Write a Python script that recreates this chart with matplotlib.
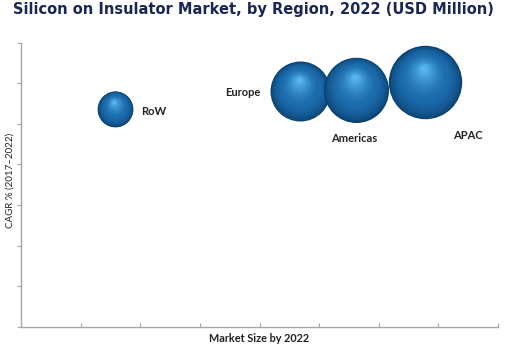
import numpy as np
import matplotlib
matplotlib.use("Agg")
import matplotlib.pyplot as plt
from matplotlib.transforms import ScaledTranslation
from matplotlib.colors import to_rgb

# data
regions = ["RoW", "Europe", "Americas", "APAC"]
market_size = [1.58, 4.68, 5.62, 6.78]      # x position (relative, no scale shown)
cagr = [5.37, 5.80, 5.84, 6.02]             # y position (relative, no scale shown)
bubble_value = [320, 900, 1056, 1347]       # bubble area (relative market value)

# label placement (points offset from bubble centre)
label_offsets = [(28, -2), (-41, -1), (-1.5, -35.5), (30.5, -38)]

fig = plt.figure(figsize=(5.11, 3.5), dpi=100)
ax = fig.add_axes([21 / 511, 23 / 350, 477 / 511, 284.5 / 350])
ax.set_xlim(0, 8)
ax.set_ylim(0, 7)

edge = np.array(to_rgb("#0b3f6e"))
mid = np.array(to_rgb("#1b6aaa"))
high = np.array(to_rgb("#56b4ee"))

n_layers = 40
scale = (2 * 0.72) ** 2
for x, y, v in zip(market_size, cagr, bubble_value):
    s = v * scale
    r_pt = np.sqrt(s) / 2
    for i in range(n_layers):
        t = i / (n_layers - 1)
        f = 1 - 0.92 * t
        if t < 0.35:
            c = edge + (mid - edge) * (t / 0.35) ** 0.6
        else:
            c = mid + (high - mid) * ((t - 0.35) / 0.65) ** 1.6
        dx = -0.05 * r_pt * t
        dy = 0.38 * r_pt * t
        tr = ax.transData + ScaledTranslation(dx / 72, dy / 72, fig.dpi_scale_trans)
        ax.scatter([x], [y], s=s * f * f, color=c, transform=tr, linewidths=0, zorder=3)

for name, x, y, (ox, oy) in zip(regions, market_size, cagr, label_offsets):
    ax.annotate(name, (x, y), xytext=(ox, oy), textcoords="offset points",
                ha="center", va="center", fontsize=8, family="Lato",
                color="#222222", fontweight="bold")

ax.set_xticks(np.arange(0, 9))
ax.set_yticks(np.arange(0, 8))
ax.set_xticklabels([])
ax.set_yticklabels([])
ax.tick_params(axis="x", direction="in", length=3, color="#a6a6a6")
ax.tick_params(axis="y", direction="out", length=3, color="#a6a6a6")
for side in ["top", "right"]:
    ax.spines[side].set_visible(False)
for side in ["left", "bottom"]:
    ax.spines[side].set_color("#a6a6a6")
    ax.spines[side].set_linewidth(1)

ax.set_xlabel("Market Size by 2022", fontsize=7.8, family="Lato", color="#222222",
              fontweight="bold", labelpad=1)
ax.set_ylabel("CAGR % (2017\u20132022)", fontsize=7, family="Lato", color="#222222")
ax.yaxis.set_label_coords(-6 / 477, 0.517)

fig.text(0.495, 0.972, "Silicon on Insulator Market, by Region, 2022 (USD Million)",
         ha="center", va="center", fontsize=10.5, fontweight="bold",
         family="DejaVu Sans", color="#1a2756")

fig.savefig("out.png", dpi=100)
